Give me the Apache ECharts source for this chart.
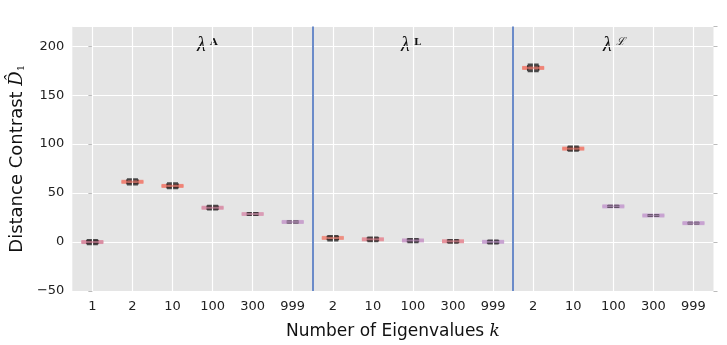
<!DOCTYPE html>
<html>
<head>
<meta charset="utf-8">
<script src="https://cdn.jsdelivr.net/npm/echarts@6/dist/echarts.min.js"></script>
<style>
  html, body { margin: 0; padding: 0; background: #fff; }
  #chart { width: 727px; height: 345px; }
</style>
</head>
<body>
<div id="chart"></div>
<script>
// three groups of k values
const categories = ['1', '2', '10', '100', '300', '999', '2', '10', '100', '300', '999', '2', '10', '100', '300', '999']
const whiskerLow = [-2.5, 58.5, 54.5, 32.8, 27.2, 19.6, 1.3, 0.4, -0.4, -1.0, -1.8, 174.0, 92.8, 35.4, 26.4, 18.6]
const q1 = [-1.5, 59.5, 55.5, 33.6, 27.8, 20.0, 2.5, 1.4, 0.4, -0.2, -1.0, 175.5, 93.8, 35.8, 26.8, 18.9]
const median = [0.0, 61.5, 57.3, 35.0, 28.6, 20.5, 4.2, 2.8, 1.6, 0.8, 0.2, 177.8, 95.4, 36.4, 27.1, 19.3]
const q3 = [1.5, 63.5, 59.3, 36.5, 29.4, 21.0, 5.6, 4.2, 2.8, 1.8, 1.2, 180.0, 96.8, 37.0, 27.5, 19.7]
const whiskerHigh = [2.5, 64.5, 60.3, 37.3, 30.0, 21.4, 6.5, 5.0, 3.5, 2.5, 2.0, 181.5, 97.8, 37.3, 27.8, 20.0]
const bandColors = ['#d98aa0', '#ef7f72', '#ef7f72', '#d990a8', '#d99ab4', '#c7a0cc',
    '#ee8c7e', '#e68e98', '#c99ac8', '#e68e98', '#c6a0d0',
    '#ef7f72', '#ef7f72', '#c6a0d0', '#c6a0d0', '#c6a0d0']
const separators = [5.5, 10.5]
const groupLabels = [
    { x: 197, sup: 'A', supFont: 'bold 10px "DejaVu Serif"' },
    { x: 401, sup: 'L', supFont: 'bold 10px "DejaVu Serif"' },
    { x: 603, sup: 'ℒ', supFont: 'italic 11px "DejaVu Serif"' }
]

const myChart = echarts.init(document.getElementById('chart'))

const boxData = categories.map((c, i) => [whiskerLow[i], q1[i], median[i], q3[i], whiskerHigh[i]])
const bandData = categories.map((c, i) => ({
    value: [i, median[i]],
    itemStyle: { color: bandColors[i], opacity: 0.9 }
}))
const centerData = categories.map((c, i) => ({
    value: [i, median[i]],
    itemStyle: { color: bandColors[i], opacity: 0.65 }
}))

const graphics = []
groupLabels.forEach(g => {
    graphics.push({
        type: 'text', left: g.x, top: 36,
        style: { text: 'λ', font: 'italic 20px "Liberation Serif"', fill: '#111' }
    })
    graphics.push({
        type: 'text', left: g.x + 13, top: 37,
        style: { text: g.sup, font: g.supFont, fill: '#111' }
    })
})

myChart.setOption({
    animation: false,
    grid: {
        left: 68, right: 13.5, top: 26.6, bottom: 51.6,
        show: true, backgroundColor: '#e5e5e5', borderWidth: 0
    },
    graphic: graphics,
    xAxis: [
        {
            type: 'category',
            data: categories,
            axisLine: { show: false },
            axisTick: { show: true, alignWithLabel: true, length: 4, lineStyle: { color: '#bbb' } },
            axisLabel: { color: '#222', fontSize: 13, fontFamily: 'DejaVu Sans', margin: 9 },
            splitLine: { show: false },
            name: '{a|Number of Eigenvalues }{k|k}',
            nameLocation: 'middle',
            nameGap: 32,
            nameTextStyle: {
                rich: {
                    a: { fontSize: 17, fontFamily: 'DejaVu Sans', color: '#111' },
                    k: { fontSize: 17, fontFamily: 'DejaVu Serif', fontStyle: 'italic', color: '#111' }
                }
            }
        },
        {
            type: 'category',
            data: categories,
            position: 'top',
            axisLine: { show: false },
            axisTick: { show: true, alignWithLabel: true, length: 4, lineStyle: { color: '#bbb' } },
            axisLabel: { show: false },
            splitLine: { show: false }
        },
        {
            type: 'value', min: -0.5, max: 15.5, show: false
        }
    ],
    yAxis: [
        {
            type: 'value',
            min: -50, max: 220, interval: 50,
            axisLine: { show: false },
            axisTick: { show: true, length: 4, lineStyle: { color: '#bbb' } },
            axisLabel: {
                color: '#222', fontSize: 13, fontFamily: 'DejaVu Sans', margin: 8,
                showMaxLabel: false,
                formatter: v => String(v).replace('-', '−')
            },
            splitLine: { show: true, lineStyle: { color: '#fff', width: 1.2 } },
            name: '{a|Distance Contrast }{d|D̂}{s|1}',
            nameLocation: 'middle',
            nameGap: 40,
            nameTextStyle: {
                rich: {
                    a: { fontSize: 18, fontFamily: 'DejaVu Sans', color: '#111' },
                    d: { fontSize: 18, fontFamily: 'DejaVu Serif', fontStyle: 'italic', color: '#111' },
                    s: { fontSize: 10, fontFamily: 'DejaVu Serif', color: '#111', padding: [8, 0, 0, 0] }
                }
            }
        },
        {
            type: 'value',
            min: -50, max: 220, interval: 50,
            position: 'right',
            axisLine: { show: false },
            axisTick: { show: true, length: 4, lineStyle: { color: '#bbb' } },
            axisLabel: { show: false },
            splitLine: { show: false }
        }
    ],
    series: [
        {
            // vertical grid lines and group separators
            type: 'line',
            xAxisIndex: 2,
            data: [],
            silent: true,
            z: 1,
            markLine: {
                symbol: 'none',
                silent: true,
                label: { show: false },
                animation: false,
                data: categories.map((c, i) => ({ xAxis: i, lineStyle: { color: '#fff', width: 1.2, type: 'solid' } }))
                    .concat(separators.map(s => ({ xAxis: s, lineStyle: { color: '#6b8bc9', width: 2, type: 'solid' } })))
            }
        },
        {
            type: 'scatter',
            data: bandData,
            symbol: 'rect',
            symbolSize: [22, 4],
            z: 3
        },
        {
            type: 'boxplot',
            data: boxData,
            boxWidth: [11, 11],
            z: 4,
            itemStyle: { color: 'rgba(60,55,65,0.3)', borderColor: 'rgba(20,20,20,0.75)', borderWidth: 1.4 }
        },
        {
            // red median stroke shows through the box
            type: 'scatter',
            data: centerData,
            symbol: 'rect',
            symbolSize: [22, 2],
            z: 5
        }
    ]
})
</script>
</body>
</html>
